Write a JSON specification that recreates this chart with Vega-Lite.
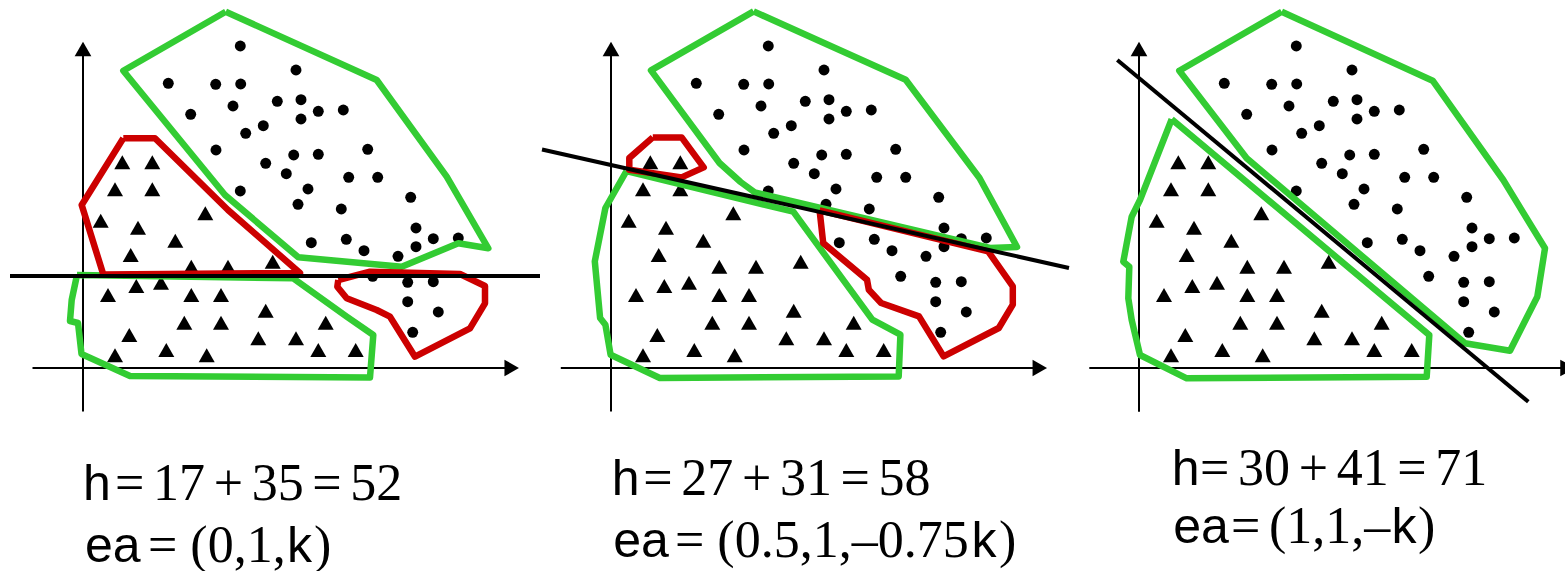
{
  "$schema": "https://vega.github.io/schema/vega-lite/v6.json",
  "padding": 0,
  "spacing": 0,
  "bounds": "flush",
  "config": {"view": {"stroke": null}},
  "datasets": {
    "dots": [
      {"x": 157.3, "y": 322}, {"x": 213, "y": 298}, {"x": 85.3, "y": 284.7}, {"x": 132.7, "y": 283.7},
      {"x": 157.7, "y": 284}, {"x": 107.7, "y": 253.7}, {"x": 150, "y": 262}, {"x": 194.3, "y": 266.7},
      {"x": 218, "y": 268.3}, {"x": 235.3, "y": 256.7}, {"x": 260.3, "y": 258}, {"x": 218, "y": 249},
      {"x": 180.3, "y": 242.3}, {"x": 162.7, "y": 234.7}, {"x": 133, "y": 218}, {"x": 284.7, "y": 218.7},
      {"x": 210.7, "y": 213}, {"x": 235.3, "y": 213.7}, {"x": 182.7, "y": 204.7}, {"x": 203.3, "y": 194.3},
      {"x": 265.7, "y": 190.7}, {"x": 294.7, "y": 190.7}, {"x": 225, "y": 179}, {"x": 157.3, "y": 177},
      {"x": 327.7, "y": 170.7}, {"x": 215, "y": 163.7}, {"x": 258.3, "y": 159}, {"x": 333, "y": 140},
      {"x": 228.3, "y": 125.3}, {"x": 263.3, "y": 128.7}, {"x": 350.3, "y": 129.3}, {"x": 375.3, "y": 130},
      {"x": 333, "y": 121.3}, {"x": 281, "y": 117.3}, {"x": 315, "y": 111.7}, {"x": 289.7, "y": 91.7},
      {"x": 324.7, "y": 85.7}, {"x": 350.3, "y": 86.3}, {"x": 324.7, "y": 66.3}, {"x": 355.3, "y": 56},
      {"x": 329.7, "y": 35.7}
    ],
    "tris": [
      {"x": 39.3, "y": 205.7}, {"x": 69.3, "y": 205.7}, {"x": 32, "y": 178.7}, {"x": 69.3, "y": 178.7},
      {"x": 17.7, "y": 147.3}, {"x": 122.3, "y": 154.7}, {"x": 55, "y": 140.3}, {"x": 92.3, "y": 127.3},
      {"x": 47.7, "y": 113}, {"x": 108.3, "y": 101.3}, {"x": 145, "y": 101.3}, {"x": 189.7, "y": 106.3},
      {"x": 25, "y": 73}, {"x": 53.3, "y": 82}, {"x": 78, "y": 85.3}, {"x": 108.3, "y": 73},
      {"x": 138, "y": 73}, {"x": 182.7, "y": 57.3}, {"x": 101.3, "y": 45.3}, {"x": 138, "y": 45.3},
      {"x": 242.7, "y": 45.3}, {"x": 46.3, "y": 33}, {"x": 175.3, "y": 29.7}, {"x": 213, "y": 29.7},
      {"x": 32, "y": 12.7}, {"x": 83.3, "y": 18}, {"x": 123.7, "y": 12.7}, {"x": 235.3, "y": 18},
      {"x": 272.7, "y": 18}
    ]
  },
  "hconcat": [
    {
      "width": 541,
      "height": 571,
      "encoding": {
        "x": {"field": "x", "type": "quantitative", "scale": {"domain": [-83, 458], "nice": false, "zero": false}, "axis": null},
        "y": {"field": "y", "type": "quantitative", "scale": {"domain": [-203, 368], "nice": false, "zero": false}, "axis": null}
      },
      "layer": [
        {
          "data": {"values": [{"x": 0, "y": -43.5, "x2": 0, "y2": 313}, {"x": -50.5, "y": 0, "x2": 422, "y2": 0}]},
          "mark": {"type": "rule", "color": "black", "strokeWidth": 2},
          "encoding": {"x2": {"field": "x2"}, "y2": {"field": "y2"}}
        },
        {
          "data": {"values": [{"x": 0, "y": 319, "s": "triangle-up"}, {"x": 428.7, "y": 0, "s": "triangle-right"}]},
          "mark": {"type": "point", "filled": true, "color": "black", "opacity": 1, "size": 280},
          "encoding": {"shape": {"field": "s", "type": "nominal", "scale": null}}
        },
        {"data": {"name": "tris"}, "mark": {"type": "point", "shape": "triangle-up", "filled": true, "color": "black", "opacity": 1, "size": 256}},
        {"data": {"name": "dots"}, "mark": {"type": "circle", "color": "black", "opacity": 1, "size": 120}},
        {
          "data": {"values": [
            {"g": "a", "k": "green", "i": 0, "x": 142.7, "y": 356.3}, {"g": "a", "k": "green", "i": 1, "x": 293.7, "y": 288},
            {"g": "a", "k": "green", "i": 2, "x": 363.7, "y": 191.3}, {"g": "a", "k": "green", "i": 3, "x": 405.3, "y": 119.7},
            {"g": "a", "k": "green", "i": 4, "x": 375.3, "y": 124.7}, {"g": "a", "k": "green", "i": 5, "x": 318.7, "y": 101.3},
            {"g": "a", "k": "green", "i": 6, "x": 215.3, "y": 110.7}, {"g": "a", "k": "green", "i": 7, "x": 142, "y": 173},
            {"g": "a", "k": "green", "i": 8, "x": 40.3, "y": 297.3}, {"g": "a", "k": "green", "i": 9, "x": 142.7, "y": 356.3},
            {"g": "b", "k": "green", "i": 0, "x": -6, "y": 93}, {"g": "b", "k": "green", "i": 1, "x": 210.3, "y": 89.7},
            {"g": "b", "k": "green", "i": 2, "x": 263.7, "y": 51.3}, {"g": "b", "k": "green", "i": 3, "x": 290.3, "y": 33},
            {"g": "b", "k": "green", "i": 4, "x": 287, "y": -9.5}, {"g": "b", "k": "green", "i": 5, "x": 47, "y": -8},
            {"g": "b", "k": "green", "i": 6, "x": -1.5, "y": 14}, {"g": "b", "k": "green", "i": 7, "x": -5, "y": 45},
            {"g": "b", "k": "green", "i": 8, "x": -13, "y": 47}, {"g": "b", "k": "green", "i": 9, "x": -11.3, "y": 68},
            {"g": "b", "k": "green", "i": 10, "x": -6, "y": 93},
            {"g": "c", "k": "red", "i": 0, "x": 40.3, "y": 229.7}, {"g": "c", "k": "red", "i": 1, "x": 72, "y": 229.7},
            {"g": "c", "k": "red", "i": 2, "x": 145, "y": 158}, {"g": "c", "k": "red", "i": 3, "x": 217, "y": 95},
            {"g": "c", "k": "red", "i": 4, "x": 20.3, "y": 93.5}, {"g": "c", "k": "red", "i": 5, "x": -1.3, "y": 163},
            {"g": "c", "k": "red", "i": 6, "x": 40.3, "y": 229.7},
            {"g": "d", "k": "red", "i": 0, "x": 255.3, "y": 88}, {"g": "d", "k": "red", "i": 1, "x": 287, "y": 96.3},
            {"g": "d", "k": "red", "i": 2, "x": 377, "y": 94}, {"g": "d", "k": "red", "i": 3, "x": 402, "y": 82},
            {"g": "d", "k": "red", "i": 4, "x": 402, "y": 64.7}, {"g": "d", "k": "red", "i": 5, "x": 387, "y": 39.7},
            {"g": "d", "k": "red", "i": 6, "x": 332, "y": 11.3}, {"g": "d", "k": "red", "i": 7, "x": 307, "y": 51.3},
            {"g": "d", "k": "red", "i": 8, "x": 293.7, "y": 58}, {"g": "d", "k": "red", "i": 9, "x": 263.7, "y": 69.7},
            {"g": "d", "k": "red", "i": 10, "x": 254.3, "y": 81.3}, {"g": "d", "k": "red", "i": 11, "x": 255.3, "y": 88}
          ]},
          "mark": {"type": "line", "strokeWidth": 6.5, "strokeJoin": "round"},
          "encoding": {
            "order": {"field": "i", "type": "quantitative"},
            "detail": {"field": "g"},
            "color": {"field": "k", "type": "nominal", "scale": {"domain": ["green", "red"], "range": ["#33cc33", "#cc0000"]}, "legend": null}
          }
        },
        {
          "data": {"values": [{"x": -73, "y": 92, "x2": 457, "y2": 92}]},
          "mark": {"type": "rule", "color": "black", "strokeWidth": 4},
          "encoding": {"x2": {"field": "x2"}, "y2": {"field": "y2"}}
        },
        {
          "data": {"values": [{"x": 0, "y": -132, "t": "h"}, {"x": 2, "y": -194, "t": "ea"}, {"x": 204, "y": -194, "t": "k"}]},
          "mark": {"type": "text", "font": "Liberation Sans", "fontSize": 50, "align": "left", "baseline": "alphabetic", "color": "black"},
          "encoding": {"text": {"field": "t"}}
        },
        {
          "data": {"values": [{"x": 32, "y": -132, "t": "=\u200617\u2006+\u200635\u2006=\u200652"}, {"x": 65, "y": -194, "t": "= (0,1,"}, {"x": 231, "y": -194, "t": ")"}]},
          "mark": {"type": "text", "font": "Liberation Serif", "fontSize": 52, "align": "left", "baseline": "alphabetic", "color": "black"},
          "encoding": {"text": {"field": "t"}}
        }
      ]
    },
    {
      "width": 539,
      "height": 571,
      "encoding": {
        "x": {"field": "x", "type": "quantitative", "scale": {"domain": [-70, 469], "nice": false, "zero": false}, "axis": null},
        "y": {"field": "y", "type": "quantitative", "scale": {"domain": [-203, 368], "nice": false, "zero": false}, "axis": null}
      },
      "layer": [
        {
          "data": {"values": [{"x": 0, "y": -43.5, "x2": 0, "y2": 313}, {"x": -50.2, "y": 0, "x2": 422, "y2": 0}]},
          "mark": {"type": "rule", "color": "black", "strokeWidth": 2},
          "encoding": {"x2": {"field": "x2"}, "y2": {"field": "y2"}}
        },
        {
          "data": {"values": [{"x": 0, "y": 319, "s": "triangle-up"}, {"x": 428.8, "y": 0, "s": "triangle-right"}]},
          "mark": {"type": "point", "filled": true, "color": "black", "opacity": 1, "size": 280},
          "encoding": {"shape": {"field": "s", "type": "nominal", "scale": null}}
        },
        {"data": {"name": "tris"}, "mark": {"type": "point", "shape": "triangle-up", "filled": true, "color": "black", "opacity": 1, "size": 256}},
        {"data": {"name": "dots"}, "mark": {"type": "circle", "color": "black", "opacity": 1, "size": 120}},
        {
          "data": {"values": [
            {"g": "a", "k": "green", "i": 0, "x": 142.6, "y": 356.6}, {"g": "a", "k": "green", "i": 1, "x": 294.7, "y": 288.3},
            {"g": "a", "k": "green", "i": 2, "x": 368.5, "y": 190}, {"g": "a", "k": "green", "i": 3, "x": 406, "y": 121},
            {"g": "a", "k": "green", "i": 4, "x": 379, "y": 120}, {"g": "a", "k": "green", "i": 5, "x": 143.7, "y": 175.6},
            {"g": "a", "k": "green", "i": 6, "x": 129.6, "y": 186}, {"g": "a", "k": "green", "i": 7, "x": 108.5, "y": 205},
            {"g": "a", "k": "green", "i": 8, "x": 40, "y": 297.6}, {"g": "a", "k": "green", "i": 9, "x": 142.6, "y": 356.6},
            {"g": "b", "k": "green", "i": 0, "x": 15.5, "y": 197}, {"g": "b", "k": "green", "i": 1, "x": 182.3, "y": 156.3},
            {"g": "b", "k": "green", "i": 2, "x": 261.3, "y": 48.3}, {"g": "b", "k": "green", "i": 3, "x": 289.4, "y": 33.3},
            {"g": "b", "k": "green", "i": 4, "x": 287.7, "y": -8.4}, {"g": "b", "k": "green", "i": 5, "x": 48.8, "y": -10},
            {"g": "b", "k": "green", "i": 6, "x": -0.4, "y": 13.3}, {"g": "b", "k": "green", "i": 7, "x": -5.6, "y": 43.3},
            {"g": "b", "k": "green", "i": 8, "x": -10.9, "y": 50}, {"g": "b", "k": "green", "i": 9, "x": -16.2, "y": 106.6},
            {"g": "b", "k": "green", "i": 10, "x": -5.6, "y": 160}, {"g": "b", "k": "green", "i": 11, "x": 15.5, "y": 197},
            {"g": "c", "k": "red", "i": 0, "x": 41.8, "y": 230.6}, {"g": "c", "k": "red", "i": 1, "x": 70.6, "y": 230.6},
            {"g": "c", "k": "red", "i": 2, "x": 92.7, "y": 200.6}, {"g": "c", "k": "red", "i": 3, "x": 70.6, "y": 190.6},
            {"g": "c", "k": "red", "i": 4, "x": 18.3, "y": 198.3}, {"g": "c", "k": "red", "i": 5, "x": 18.3, "y": 210},
            {"g": "c", "k": "red", "i": 6, "x": 41.8, "y": 230.6},
            {"g": "d", "k": "red", "i": 0, "x": 208.6, "y": 157.6}, {"g": "d", "k": "red", "i": 1, "x": 377.2, "y": 116.6},
            {"g": "d", "k": "red", "i": 2, "x": 401.8, "y": 81.6}, {"g": "d", "k": "red", "i": 3, "x": 401.8, "y": 63.3},
            {"g": "d", "k": "red", "i": 4, "x": 387.8, "y": 40}, {"g": "d", "k": "red", "i": 5, "x": 332.6, "y": 11.6},
            {"g": "d", "k": "red", "i": 6, "x": 308, "y": 51.6}, {"g": "d", "k": "red", "i": 7, "x": 270.1, "y": 65},
            {"g": "d", "k": "red", "i": 8, "x": 257.8, "y": 78.3}, {"g": "d", "k": "red", "i": 9, "x": 256, "y": 88.3},
            {"g": "d", "k": "red", "i": 10, "x": 212.2, "y": 125}, {"g": "d", "k": "red", "i": 11, "x": 208.6, "y": 157.6}
          ]},
          "mark": {"type": "line", "strokeWidth": 6.5, "strokeJoin": "round"},
          "encoding": {
            "order": {"field": "i", "type": "quantitative"},
            "detail": {"field": "g"},
            "color": {"field": "k", "type": "nominal", "scale": {"domain": ["green", "red"], "range": ["#33cc33", "#cc0000"]}, "legend": null}
          }
        },
        {
          "data": {"values": [{"x": -69, "y": 218.5, "x2": 458, "y2": 100}]},
          "mark": {"type": "rule", "color": "black", "strokeWidth": 4},
          "encoding": {"x2": {"field": "x2"}, "y2": {"field": "y2"}}
        },
        {
          "data": {"values": [{"x": 0.7, "y": -127, "t": "h"}, {"x": 2.3, "y": -189, "t": "ea"}, {"x": 360.5, "y": -189, "t": "k"}]},
          "mark": {"type": "text", "font": "Liberation Sans", "fontSize": 50, "align": "left", "baseline": "alphabetic", "color": "black"},
          "encoding": {"text": {"field": "t"}}
        },
        {
          "data": {"values": [{"x": 32.3, "y": -127, "t": "=\u200627\u2006+\u200631\u2006=\u200658"}, {"x": 64, "y": -189, "t": "= (0.5,1,–0.75"}, {"x": 388, "y": -189, "t": ")"}]},
          "mark": {"type": "text", "font": "Liberation Serif", "fontSize": 52, "align": "left", "baseline": "alphabetic", "color": "black"},
          "encoding": {"text": {"field": "t"}}
        }
      ]
    },
    {
      "width": 485,
      "height": 571,
      "encoding": {
        "x": {"field": "x", "type": "quantitative", "scale": {"domain": [-59, 426], "nice": false, "zero": false}, "axis": null},
        "y": {"field": "y", "type": "quantitative", "scale": {"domain": [-203, 368], "nice": false, "zero": false}, "axis": null}
      },
      "layer": [
        {
          "data": {"values": [{"x": 0, "y": -43.7, "x2": 0, "y2": 313}, {"x": -49.7, "y": 0, "x2": 422, "y2": 0}]},
          "mark": {"type": "rule", "color": "black", "strokeWidth": 2},
          "encoding": {"x2": {"field": "x2"}, "y2": {"field": "y2"}}
        },
        {
          "data": {"values": [{"x": 0, "y": 319, "s": "triangle-up"}, {"x": 428.5, "y": 0, "s": "triangle-right"}]},
          "mark": {"type": "point", "filled": true, "color": "black", "opacity": 1, "size": 280, "clip": true},
          "encoding": {"shape": {"field": "s", "type": "nominal", "scale": null}}
        },
        {"data": {"name": "tris"}, "mark": {"type": "point", "shape": "triangle-up", "filled": true, "color": "black", "opacity": 1, "size": 256}},
        {"data": {"name": "dots"}, "mark": {"type": "circle", "color": "black", "opacity": 1, "size": 120}},
        {
          "data": {"values": [
            {"g": "a", "k": "green", "i": 0, "x": 142.7, "y": 356.3}, {"g": "a", "k": "green", "i": 1, "x": 293.7, "y": 287.3},
            {"g": "a", "k": "green", "i": 2, "x": 364.3, "y": 188}, {"g": "a", "k": "green", "i": 3, "x": 406, "y": 119.7},
            {"g": "a", "k": "green", "i": 4, "x": 398.3, "y": 71.3}, {"g": "a", "k": "green", "i": 5, "x": 371, "y": 17.3},
            {"g": "a", "k": "green", "i": 6, "x": 326, "y": 24.7}, {"g": "a", "k": "green", "i": 7, "x": 107.7, "y": 209.7},
            {"g": "a", "k": "green", "i": 8, "x": 40.3, "y": 297.3}, {"g": "a", "k": "green", "i": 9, "x": 142.7, "y": 356.3},
            {"g": "b", "k": "green", "i": 0, "x": 32.7, "y": 248.7}, {"g": "b", "k": "green", "i": 1, "x": 290.3, "y": 33},
            {"g": "b", "k": "green", "i": 2, "x": 287.7, "y": -8.7}, {"g": "b", "k": "green", "i": 3, "x": 47.7, "y": -10.3},
            {"g": "b", "k": "green", "i": 4, "x": 1, "y": 13}, {"g": "b", "k": "green", "i": 5, "x": -7.3, "y": 48},
            {"g": "b", "k": "green", "i": 6, "x": -10.7, "y": 69.7}, {"g": "b", "k": "green", "i": 7, "x": -9.7, "y": 101.3},
            {"g": "b", "k": "green", "i": 8, "x": -15.7, "y": 106.3}, {"g": "b", "k": "green", "i": 9, "x": -7.3, "y": 151.3},
            {"g": "b", "k": "green", "i": 10, "x": 1, "y": 168}, {"g": "b", "k": "green", "i": 11, "x": 32.7, "y": 248.7}
          ]},
          "mark": {"type": "line", "strokeWidth": 6.5, "strokeJoin": "round"},
          "encoding": {
            "order": {"field": "i", "type": "quantitative"},
            "detail": {"field": "g"},
            "color": {"field": "k", "type": "nominal", "scale": {"domain": ["green", "red"], "range": ["#33cc33", "#cc0000"]}, "legend": null}
          }
        },
        {
          "data": {"values": [{"x": -21.7, "y": 308, "x2": 389.3, "y2": -33.7}]},
          "mark": {"type": "rule", "color": "black", "strokeWidth": 4},
          "encoding": {"x2": {"field": "x2"}, "y2": {"field": "y2"}}
        },
        {
          "data": {"values": [{"x": 32.7, "y": -117, "t": "h"}, {"x": 34.3, "y": -175, "t": "ea"}, {"x": 252.5, "y": -175, "t": "k"}]},
          "mark": {"type": "text", "font": "Liberation Sans", "fontSize": 50, "align": "left", "baseline": "alphabetic", "color": "black"},
          "encoding": {"text": {"field": "t"}}
        },
        {
          "data": {"values": [{"x": 61, "y": -117, "t": "=\u200630\u2006+\u200641\u2006=\u200671"}, {"x": 92, "y": -175, "t": "=\u2006(1,1,–"}, {"x": 279, "y": -175, "t": ")"}]},
          "mark": {"type": "text", "font": "Liberation Serif", "fontSize": 52, "align": "left", "baseline": "alphabetic", "color": "black"},
          "encoding": {"text": {"field": "t"}}
        }
      ]
    }
  ]
}
